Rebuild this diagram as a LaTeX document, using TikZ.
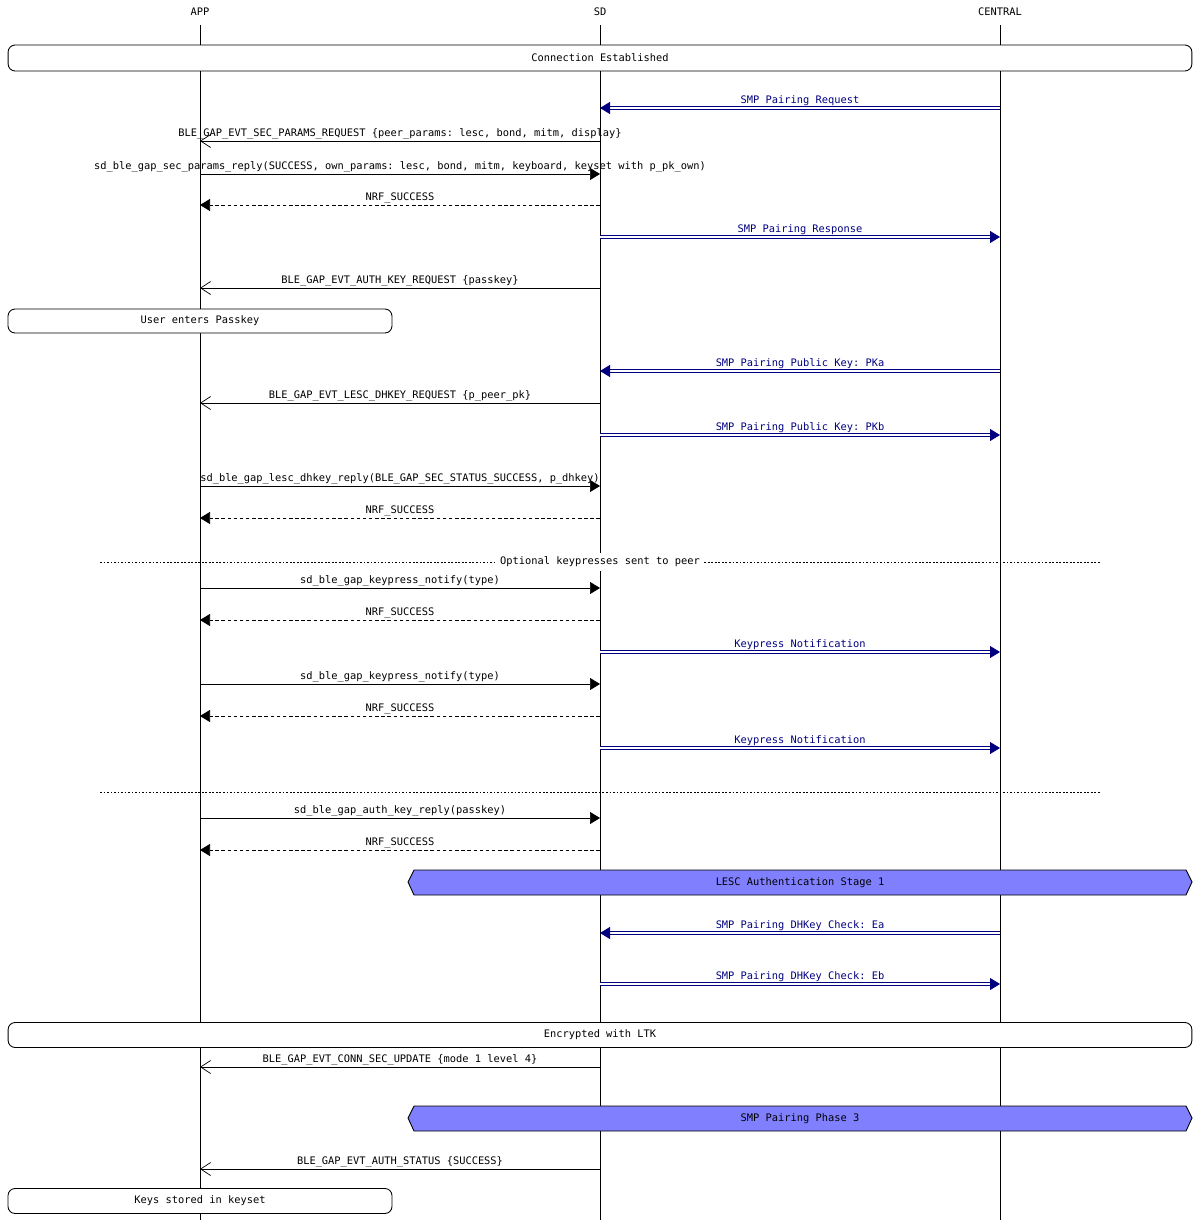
\documentclass[tikz,border=0pt]{standalone}
\usepackage{fontspec}
\setmonofont{DejaVu Sans Mono}
\usetikzlibrary{arrows.meta}
\definecolor{smpblue}{RGB}{0,0,128}
\definecolor{stagefill}{RGB}{128,128,255}
\tikzset{
  lbl/.style={font=\ttfamily\fontsize{5.9}{7}\selectfont, inner sep=1pt, above},
  call/.style={-{Triangle[length=2mm,width=2.4mm]}},
  ret/.style={dashed, dash pattern=on 2pt off 1.5pt, -{Triangle[length=2mm,width=2.4mm]}},
  evt/.style={-{Straight Barb[length=2mm,width=2.6mm]}},
  air/.style={smpblue, double=white, double distance=0.9pt, line width=0.5pt,
              -{Triangle[length=2mm,width=2.4mm]}},
  airlbl/.style={lbl, text=smpblue},
  note/.style={draw, rounded corners=4pt, fill=white, line width=0.5pt,
               font=\ttfamily\fontsize{5.9}{7}\selectfont},
  stage/.style={draw, fill=stagefill, line width=0.5pt},
  sep/.style={dash pattern=on 1pt off 1pt, line width=0.5pt}
}
% message from lifeline #2 to lifeline #3 at height #1
\newcommand\msg[6]{%
  \coordinate (from) at (#2,#1); \coordinate (to) at (#3,#1);
  \draw[#4] (from) -- node[#5] {#6} (to);}
\begin{document}
\begin{tikzpicture}[x=0.02cm,y=-0.02cm]
\useasboundingbox (0,0) rectangle (1200,1220);
% lifelines
\node[lbl, below] (app) at (200,6) {APP};
\node[lbl, below] (sd) at (600,6) {SD};
\node[lbl, below] (central) at (1000,6) {CENTRAL};
\coordinate (append) at (200,1220);
\coordinate (sdend) at (600,1220);
\coordinate (centralend) at (1000,1220);
\draw (app.south) ++(0,-4pt) -- (append);
\draw (sd.south) ++(0,-4pt) -- (sdend);
\draw (central.south) ++(0,-4pt) -- (centralend);
% boxes
\node[note, minimum width=23.68cm, minimum height=0.52cm] (conn) at (600,58) {Connection Established};
% messages
\msg{108}{1000}{600}{air}{airlbl}{SMP Pairing Request}
\msg{141}{600}{200}{evt}{lbl}{BLE\_GAP\_EVT\_SEC\_PARAMS\_REQUEST \{peer\_params: lesc, bond, mitm, display\}}
\msg{174}{200}{600}{call}{lbl}{sd\_ble\_gap\_sec\_params\_reply(SUCCESS, own\_params: lesc, bond, mitm, keyboard, keyset with p\_pk\_own)}
\msg{205}{600}{200}{ret}{lbl}{NRF\_SUCCESS}
\msg{237}{600}{1000}{air}{airlbl}{SMP Pairing Response}
\msg{288}{600}{200}{evt}{lbl}{BLE\_GAP\_EVT\_AUTH\_KEY\_REQUEST \{passkey\}}
\node[note, minimum width=7.68cm, minimum height=0.48cm] (user) at (200,321) {User enters Passkey};
\msg{371}{1000}{600}{air}{airlbl}{SMP Pairing Public Key: PKa}
\msg{403}{600}{200}{evt}{lbl}{BLE\_GAP\_EVT\_LESC\_DHKEY\_REQUEST \{p\_peer\_pk\}}
\msg{435}{600}{1000}{air}{airlbl}{SMP Pairing Public Key: PKb}
\msg{486}{200}{600}{call}{lbl}{sd\_ble\_gap\_lesc\_dhkey\_reply(BLE\_GAP\_SEC\_STATUS\_SUCCESS, p\_dhkey)}
\msg{518}{600}{200}{ret}{lbl}{NRF\_SUCCESS}
% optional keypresses
\coordinate (optl) at (100,562); \coordinate (optr) at (1100,562);
\draw[sep] (optl) -- node[lbl, anchor=center, fill=white, inner sep=2pt] {Optional keypresses sent to peer} (optr);
\msg{588}{200}{600}{call}{lbl}{sd\_ble\_gap\_keypress\_notify(type)}
\msg{620}{600}{200}{ret}{lbl}{NRF\_SUCCESS}
\msg{652}{600}{1000}{air}{airlbl}{Keypress Notification}
\msg{684}{200}{600}{call}{lbl}{sd\_ble\_gap\_keypress\_notify(type)}
\msg{716}{600}{200}{ret}{lbl}{NRF\_SUCCESS}
\msg{748}{600}{1000}{air}{airlbl}{Keypress Notification}
\coordinate (endl) at (100,792); \coordinate (endr) at (1100,792);
\draw[sep] (endl) -- (endr);
\msg{818}{200}{600}{call}{lbl}{sd\_ble\_gap\_auth\_key\_reply(passkey)}
\msg{850}{600}{200}{ret}{lbl}{NRF\_SUCCESS}
\draw[stage] (408,882) -- (414,870) -- (1186,870) -- (1192,882) -- (1186,895) -- (414,895) -- cycle;
\node[lbl, anchor=center] (lesc) at (800,883) {LESC Authentication Stage 1};
\msg{933}{1000}{600}{air}{airlbl}{SMP Pairing DHKey Check: Ea}
\msg{984}{600}{1000}{air}{airlbl}{SMP Pairing DHKey Check: Eb}
\node[note, minimum width=23.68cm, minimum height=0.5cm] (ltk) at (600,1035) {Encrypted with LTK};
\msg{1067}{600}{200}{evt}{lbl}{BLE\_GAP\_EVT\_CONN\_SEC\_UPDATE \{mode 1 level 4\}}
\draw[stage] (408,1118) -- (414,1106) -- (1186,1106) -- (1192,1118) -- (1186,1131) -- (414,1131) -- cycle;
\node[lbl, anchor=center] (phase) at (800,1119) {SMP Pairing Phase 3};
\msg{1169}{600}{200}{evt}{lbl}{BLE\_GAP\_EVT\_AUTH\_STATUS \{SUCCESS\}}
\node[note, minimum width=7.68cm, minimum height=0.5cm] (keys) at (200,1201) {Keys stored in keyset};
\end{tikzpicture}
\end{document}
